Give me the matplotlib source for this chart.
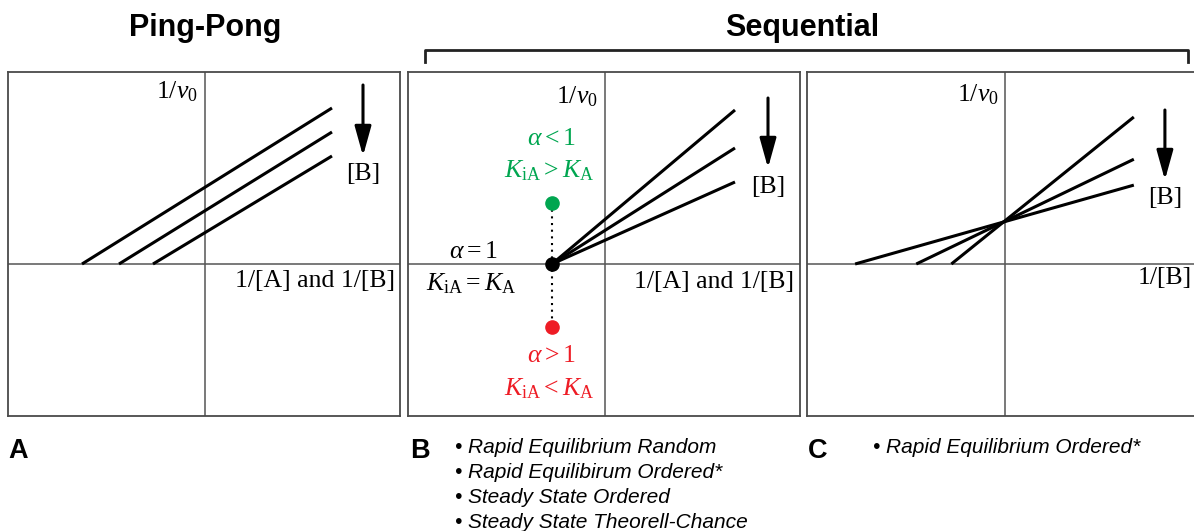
import matplotlib
matplotlib.use("Agg")
import matplotlib.pyplot as plt
from matplotlib.lines import Line2D

plt.rcParams["mathtext.fontset"] = "custom"
plt.rcParams["mathtext.rm"] = "Liberation Serif"
plt.rcParams["mathtext.it"] = "Liberation Serif:italic"
plt.rcParams["mathtext.bf"] = "Liberation Serif:bold"

# ---- data -------------------------------------------------------------
# Ping-Pong: parallel lines (x-intercept on the left, right end point)
pp_x_start = [-1.23, -0.86, -0.52]
pp_x_end = 1.27
pp_y_end = [1.56, 1.32, 1.08]

# Sequential (B): lines converging on a common point on the x axis
seq_common = (-0.53, 0.0)
seq_x_end = 1.30
seq_y_end = [1.54, 1.16, 0.82]
alpha_points_y = [0.61, 0.0, -0.63]          # alpha < 1, = 1, > 1

# Sequential (C): lines crossing above the x axis
c_x_start = [-1.49, -0.88, -0.53]
c_cross = (-0.01, 0.42)
c_x_end = 1.29

titles = ["Ping-Pong", "Sequential"]
panel_letters = ["A", "B", "C"]
b_mechanisms = ["Rapid Equilibrium Random", "Rapid Equilibirum Ordered*",
                "Steady State Ordered", "Steady State Theorell-Chance"]
c_mechanisms = ["Rapid Equilibrium Ordered*"]

GREEN = "#00a650"
RED = "#ee1c25"
W, H = 1194, 531

fig = plt.figure(figsize=(W / 100, H / 100), dpi=100)


def make_panel(left_px, right_px, right_spine=True):
    top_px, bottom_px = 72, 416
    ax = fig.add_axes([left_px / W, 1 - bottom_px / H,
                       (right_px - left_px) / W, (bottom_px - top_px) / H])
    ax.set_xlim(-1.97, 1.95)
    ax.set_ylim(-1.52, 1.92)
    ax.set_xticks([])
    ax.set_yticks([])
    for s in ax.spines.values():
        s.set_color("#4a4a4a")
        s.set_linewidth(1.3)
    if not right_spine:
        ax.spines["right"].set_visible(False)
    ax.axhline(0, color="#555555", lw=1.1, zorder=1)
    ax.axvline(0, color="#555555", lw=1.1, zorder=1)
    return ax


serif = dict(fontsize=18.5, color="black")
v0_label = r"$\mathrm{1/}v_{\mathrm{0}}$"


def arrow(ax, x, y0, y1):
    ax.annotate("", xy=(x, y1), xytext=(x, y0),
                arrowprops=dict(arrowstyle="-|>,head_length=1.8,head_width=0.5",
                                color="black", lw=2.2, shrinkA=0, shrinkB=0))


# ---- panel A ----------------------------------------------------------
axA = make_panel(8, 400)
for xs, ye in zip(pp_x_start, pp_y_end):
    axA.plot([xs, pp_x_end], [0, ye], color="black", lw=2.2,
             solid_capstyle="butt", zorder=3)
axA.text(-0.07, 1.72, v0_label, ha="right", va="center", **serif)
arrow(axA, 1.58, 1.79, 1.08)
axA.text(1.58, 0.90, "[B]", ha="center", va="center", **serif)
axA.text(1.90, -0.17, "1/[A] and 1/[B]", ha="right", va="center", **serif)

# ---- panel B ----------------------------------------------------------
axB = make_panel(408, 800)
for ye in seq_y_end:
    axB.plot([seq_common[0], seq_x_end], [seq_common[1], ye], color="black",
             lw=2.2, solid_capstyle="butt", zorder=3)
axB.plot([seq_common[0]] * 2, [alpha_points_y[0], alpha_points_y[2]],
         color="black", lw=1.5, ls=(0, (1, 2.2)), zorder=2)
for yv, col in zip(alpha_points_y, [GREEN, "black", RED]):
    axB.plot(seq_common[0], yv, "o", color=col, ms=9.5, zorder=4)
axB.text(-0.07, 1.67, v0_label, ha="right", va="center", **serif)
arrow(axB, 1.63, 1.66, 0.96)
axB.text(1.63, 0.77, "[B]", ha="center", va="center", **serif)
axB.text(1.89, -0.18, "1/[A] and 1/[B]", ha="right", va="center", **serif)
axB.text(-0.54, 1.19, r"$\alpha < \mathrm{1}$", ha="center", va="baseline",
         fontsize=18.5, color=GREEN)
axB.text(-0.56, 0.87, r"$K_{\mathrm{iA}} > K_{\mathrm{A}}$", ha="center",
         va="baseline", fontsize=18.5, color=GREEN)
axB.text(-1.32, 0.06, r"$\alpha = \mathrm{1}$", ha="center", va="baseline",
         fontsize=18.5, color="black")
axB.text(-1.34, -0.26, r"$K_{\mathrm{iA}} = K_{\mathrm{A}}$", ha="center",
         va="baseline", fontsize=18.5, color="black")
axB.text(-0.54, -0.98, r"$\alpha > \mathrm{1}$", ha="center", va="baseline",
         fontsize=18.5, color=RED)
axB.text(-0.56, -1.31, r"$K_{\mathrm{iA}} < K_{\mathrm{A}}$", ha="center",
         va="baseline", fontsize=18.5, color=RED)

# ---- panel C ----------------------------------------------------------
axC = make_panel(807, 1200, right_spine=False)
for xs in c_x_start:
    slope = (c_cross[1] - 0) / (c_cross[0] - xs)
    axC.plot([xs, c_x_end], [0, c_cross[1] + slope * (c_x_end - c_cross[0])],
             color="black", lw=2.2, solid_capstyle="butt", zorder=3)
axC.text(-0.06, 1.69, v0_label, ha="right", va="center", **serif)
arrow(axC, 1.60, 1.54, 0.84)
axC.text(1.60, 0.66, "[B]", ha="center", va="center", **serif)
axC.text(1.87, -0.14, "1/[B]", ha="right", va="center", **serif)

for ax in (axA, axB, axC):
    for t in ax.texts:
        t.set_family("Liberation Serif")

# ---- titles, bracket and captions -------------------------------------
sans_bold = dict(family="Liberation Sans", weight="bold")
fig.text(205 / W, 1 - 28 / H, titles[0], ha="center", va="center",
         fontsize=22, **sans_bold)
fig.text(802 / W, 1 - 28 / H, titles[1], ha="center", va="center",
         fontsize=22, **sans_bold)
bx0, bx1, by0, by1 = 425 / W, 1188 / W, 1 - 50 / H, 1 - 62 / H
fig.add_artist(Line2D([bx0, bx0, bx1, bx1], [by1, by0, by0, by1],
                      transform=fig.transFigure, color="#222222", lw=2))

for x_px, letter in zip([8, 410, 808], panel_letters):
    fig.text(x_px / W, 1 - 458 / H, letter, ha="left", va="baseline",
             fontsize=19.5, **sans_bold)

for i, name in enumerate(b_mechanisms):
    fig.text(455 / W, 1 - (453 + 25 * i) / H, "\u2022 " + name, ha="left",
             va="baseline", fontsize=15, family="Liberation Sans",
             style="italic")
for i, name in enumerate(c_mechanisms):
    fig.text(873 / W, 1 - (453 + 25 * i) / H, "\u2022 " + name, ha="left",
             va="baseline", fontsize=15, family="Liberation Sans",
             style="italic")

fig.savefig("out.png", dpi=100)
